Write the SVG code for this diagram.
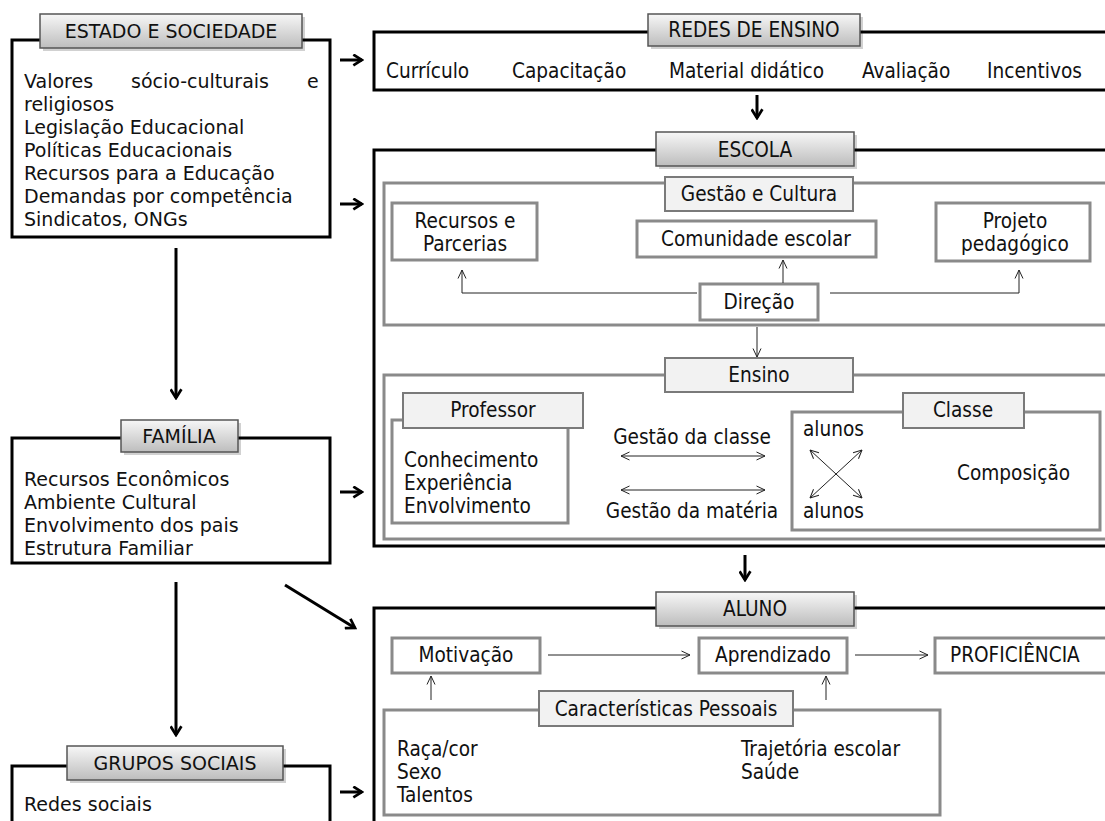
<svg xmlns="http://www.w3.org/2000/svg" width="1105" height="821" viewBox="0 0 1105 821">
<defs>
<linearGradient id="tabg" x1="0" y1="0" x2="0" y2="1">
<stop offset="0" stop-color="#f7f7f7"/>
<stop offset="1" stop-color="#bdbdbd"/>
</linearGradient>
<marker id="ah" viewBox="0 0 12 12" refX="10" refY="6" markerWidth="13" markerHeight="13" markerUnits="userSpaceOnUse" orient="auto">
<path d="M2,1 L10,6 L2,11" fill="none" stroke="#000" stroke-width="2.5"/>
</marker>
<marker id="th" viewBox="0 0 10 10" refX="9.5" refY="5" markerWidth="10" markerHeight="10" markerUnits="userSpaceOnUse" orient="auto-start-reverse">
<path d="M1,1 L9.5,5 L1,9" fill="none" stroke="#222" stroke-width="1"/>
</marker>
<style>
.outer{fill:#fff;stroke:#000;stroke-width:3}
.inner{fill:#fff;stroke:#8a8a8a;stroke-width:3}
.tab{fill:url(#tabg);stroke:#555;stroke-width:1.5}
.shadow{fill:#000;opacity:0.18}
.itab{fill:#f2f2f2;stroke:#7a7a7a;stroke-width:2}
.v{font-family:"DejaVu Sans",Verdana,sans-serif;font-size:19px;fill:#111}
.t{font-family:"DejaVu Sans Condensed","DejaVu Sans",sans-serif;font-size:20.6px;fill:#111}
.c{text-anchor:middle}
.thick{fill:none;stroke:#000;stroke-width:3;marker-end:url(#ah)}
.thin{fill:none;stroke:#222;stroke-width:1;marker-end:url(#th)}
.dbl{fill:none;stroke:#222;stroke-width:1;marker-end:url(#th);marker-start:url(#th)}
</style>
</defs>
<rect width="1105" height="821" fill="#fff"/>

<g id="estado">
<rect class="outer" x="12" y="40" width="318" height="197"/>
<rect class="shadow" x="43" y="17" width="262" height="34"/>
<rect class="tab" x="40" y="14" width="262" height="34"/>
<text class="v c" x="171" y="38">ESTADO E SOCIEDADE</text>
<text class="v" x="24" y="88">Valores</text>
<text class="v" x="131" y="88">sócio-culturais</text>
<text class="v" x="307" y="88">e</text>
<text class="v" x="24" y="111">religiosos</text>
<text class="v" x="24" y="134">Legislação Educacional</text>
<text class="v" x="24" y="157">Políticas Educacionais</text>
<text class="v" x="24" y="180">Recursos para a Educação</text>
<text class="v" x="24" y="203">Demandas por competência</text>
<text class="v" x="24" y="226">Sindicatos, ONGs</text>
</g>

<g id="familia">
<rect class="outer" x="12" y="438" width="318" height="125"/>
<rect class="shadow" x="124" y="423" width="117" height="32"/>
<rect class="tab" x="121" y="420" width="117" height="32"/>
<text class="v c" x="179" y="443">FAMÍLIA</text>
<text class="v" x="24" y="486">Recursos Econômicos</text>
<text class="v" x="24" y="509">Ambiente Cultural</text>
<text class="v" x="24" y="532">Envolvimento dos pais</text>
<text class="v" x="24" y="555">Estrutura Familiar</text>
</g>

<g id="grupos">
<rect class="outer" x="12" y="766" width="318" height="80"/>
<rect class="shadow" x="70" y="749" width="216" height="34"/>
<rect class="tab" x="67" y="746" width="216" height="34"/>
<text class="v c" x="175" y="770">GRUPOS SOCIAIS</text>
<text class="v" x="24" y="811">Redes sociais</text>
</g>

<g id="redes">
<rect class="outer" x="374" y="32" width="740" height="58"/>
<rect class="shadow" x="651" y="17" width="212" height="32"/>
<rect class="tab" x="648" y="14" width="212" height="32"/>
<text class="t c" x="754" y="37">REDES DE ENSINO</text>
<text class="t" x="386" y="78">Currículo</text>
<text class="t" x="512" y="78">Capacitação</text>
<text class="t" x="669" y="78">Material didático</text>
<text class="t" x="862" y="78">Avaliação</text>
<text class="t" x="987" y="78">Incentivos</text>
</g>

<g id="escola">
<rect class="outer" x="374" y="150" width="740" height="396"/>
<rect class="shadow" x="659" y="135" width="198" height="34"/>
<rect class="tab" x="656" y="132" width="198" height="34"/>
<text class="t c" x="755" y="157">ESCOLA</text>
</g>

<g id="gestao">
<rect class="inner" x="384" y="183" width="730" height="142"/>
<rect class="itab" x="665" y="177" width="188" height="34"/>
<text class="t c" x="759" y="201">Gestão e Cultura</text>
</g>
<g id="recursos">
<rect class="inner" x="392" y="203" width="145" height="57"/>
<text class="t c" x="465" y="228">Recursos e</text>
<text class="t c" x="465" y="251">Parcerias</text>
</g>
<g id="comunidade">
<rect class="inner" x="637" y="221" width="239" height="36"/>
<text class="t c" x="756" y="246">Comunidade escolar</text>
</g>
<g id="projeto">
<rect class="inner" x="936" y="203" width="154" height="58"/>
<text class="t c" x="1015" y="228">Projeto</text>
<text class="t c" x="1015" y="251">pedagógico</text>
</g>
<g id="direcao">
<rect class="inner" x="700" y="284" width="118" height="36"/>
<text class="t c" x="759" y="309">Direção</text>
</g>

<g id="ensino">
<rect class="inner" x="384" y="375" width="730" height="164"/>
<rect class="itab" x="665" y="358" width="188" height="34"/>
<text class="t c" x="759" y="382">Ensino</text>
<text class="t c" x="692" y="444">Gestão da classe</text>
<text class="t c" x="692" y="518">Gestão da matéria</text>
</g>
<g id="professor">
<rect class="inner" x="392" y="420" width="176" height="103"/>
<rect class="itab" x="403" y="393" width="180" height="35"/>
<text class="t c" x="493" y="417">Professor</text>
<text class="t" x="404" y="467">Conhecimento</text>
<text class="t" x="404" y="490">Experiência</text>
<text class="t" x="404" y="513">Envolvimento</text>
</g>
<g id="classe">
<rect class="inner" x="792" y="412" width="308" height="118"/>
<rect class="itab" x="903" y="393" width="121" height="35"/>
<text class="t c" x="963" y="417">Classe</text>
<text class="t" x="803" y="436">alunos</text>
<text class="t" x="803" y="518">alunos</text>
<text class="t" x="957" y="480">Composição</text>
</g>

<g id="aluno">
<rect class="outer" x="374" y="608" width="740" height="230"/>
<rect class="shadow" x="659" y="595" width="198" height="34"/>
<rect class="tab" x="656" y="592" width="198" height="34"/>
<text class="t c" x="755" y="616">ALUNO</text>
</g>
<g id="motivacao">
<rect class="inner" x="392" y="638" width="148" height="35"/>
<text class="t c" x="466" y="662">Motivação</text>
</g>
<g id="aprendizado">
<rect class="inner" x="699" y="638" width="148" height="35"/>
<text class="t c" x="773" y="662">Aprendizado</text>
</g>
<g id="proficiencia">
<rect class="inner" x="935" y="638" width="180" height="35"/>
<text class="t" x="950" y="662">PROFICIÊNCIA</text>
</g>
<g id="caracteristicas">
<rect class="inner" x="384" y="710" width="556" height="105"/>
<rect class="itab" x="539" y="691" width="254" height="35"/>
<text class="t c" x="666" y="716">Características Pessoais</text>
<text class="t" x="397" y="756">Raça/cor</text>
<text class="t" x="397" y="779">Sexo</text>
<text class="t" x="397" y="802">Talentos</text>
<text class="t" x="741" y="756">Trajetória escolar</text>
<text class="t" x="741" y="779">Saúde</text>
</g>

<g id="connectors">
<path class="thick" d="M340,60 H362"/>
<path class="thick" d="M340,204 H362"/>
<path class="thick" d="M340,492 H362"/>
<path class="thick" d="M340,792 H362"/>
<path class="thick" d="M176,248 V398"/>
<path class="thick" d="M176,582 V735"/>
<path class="thick" d="M285,585 L355,628"/>
<path class="thick" d="M757,95 V118"/>
<path class="thick" d="M745,555 V580"/>
<path class="thin" d="M697,293 H462 V270"/>
<path class="thin" d="M830,293 H1019 V270"/>
<path class="thin" d="M783,283 V260"/>
<path class="thin" d="M757,327 V357"/>
<path class="dbl" d="M621,456 H765"/>
<path class="dbl" d="M621,490 H765"/>
<path class="dbl" d="M810,450 L862,498"/>
<path class="dbl" d="M862,450 L810,498"/>
<path class="thin" d="M548,655 H690"/>
<path class="thin" d="M855,655 H928"/>
<path class="thin" d="M431,700 V676"/>
<path class="thin" d="M826,700 V676"/>
</g>
</svg>
